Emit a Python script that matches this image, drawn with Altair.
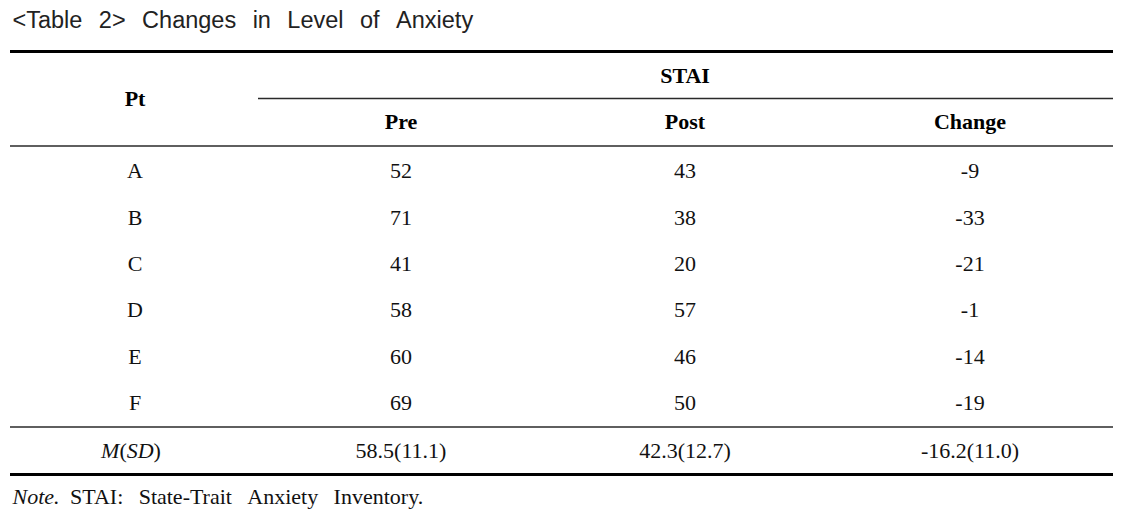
import altair as alt
import pandas as pd

# ---------------- data ----------------
title_text = "<Table 2> Changes in Level of Anxiety"
group_header = "STAI"
columns = ["Pt", "Pre", "Post", "Change"]
patients = ["A", "B", "C", "D", "E", "F"]
pre = [52, 71, 41, 58, 60, 69]
post = [43, 38, 20, 57, 46, 50]
change = [-9, -33, -21, -1, -14, -19]
summary_parts = ["M", "(", "SD", ")"]          # M(SD), italic letters, upright brackets
summary = ["58.5(11.1)", "42.3(12.7)", "-16.2(11.0)"]
note_lead = "Note."
note_body = "STAI: State-Trait Anxiety Inventory."

# ---------------- layout (scales) ----------------
row_slots = ["title", "top", "group", "group_rule", "sub", "head_rule"] + patients + \
            ["sum_rule", "sum", "bottom", "note"]
row_pix = [21, 51.5, 76, 98.5, 122, 146, 171, 218, 264, 310, 357, 403, 427, 451, 474.5, 497]
slot = {name: i for i, name in enumerate(row_slots)}

col_domain = [-1, 0, 0.5, 1, 2, 3, 4]          # left edge, Pt, span start, Pre, Post, Change, right edge
col_pix = [10, 135, 258, 401, 685, 970, 1113]

OFF = 8
xs = alt.Scale(domain=col_domain, range=[v - OFF for v in col_pix], nice=False, zero=False)
ys = alt.Scale(domain=list(range(len(row_slots))), range=[v - OFF for v in row_pix],
               nice=False, zero=False)

def X(f="x"):
    return alt.X(f"{f}:Q", scale=xs, axis=None)

def Y(f="y"):
    return alt.Y(f"{f}:Q", scale=ys, axis=None)

SERIF = "Liberation Serif"
FS = 22

# ---------------- tables ----------------
body = []
for i, p in enumerate(patients):
    for c, v in enumerate([p, pre[i], post[i], change[i]]):
        body.append({"x": c, "y": slot[p], "t": str(v)})
for j, v in enumerate(summary):
    body.append({"x": j + 1, "y": slot["sum"], "t": v})
body_df = pd.DataFrame(body)

head_df = pd.DataFrame(
    [{"x": 0, "y": slot["group_rule"], "t": columns[0]},
     {"x": 2, "y": slot["group"], "t": group_header}] +
    [{"x": k, "y": slot["sub"], "t": columns[k]} for k in range(1, 4)]
)

title_df = pd.DataFrame([{"x": -1, "y": slot["title"], "t": title_text.replace(" ", "\u2002\u2009")}])
note_lead_df = pd.DataFrame([{"x": -1, "y": slot["note"], "t": note_lead}])
note_body_df = pd.DataFrame([{"x": -1, "y": slot["note"], "t": note_body.replace(" ", "\u2002\u2009")}])

thick_df = pd.DataFrame([{"x": -1, "x2": 4, "y": slot["top"]},
                         {"x": -1, "x2": 4, "y": slot["bottom"]}])
thin_df = pd.DataFrame([{"x": 0.5, "x2": 4, "y": slot["group_rule"]},
                        {"x": -1, "x2": 4, "y": slot["head_rule"]},
                        {"x": -1, "x2": 4, "y": slot["sum_rule"]}])

body_layer = alt.Chart(body_df).mark_text(
    font=SERIF, fontSize=FS, color="#111", align="center", baseline="middle"
).encode(x=X(), y=Y(), text="t:N")

head_layer = alt.Chart(head_df).mark_text(
    font=SERIF, fontSize=FS, fontWeight="bold", color="#000", align="center", baseline="middle"
).encode(x=X(), y=Y(), text="t:N")

# M(SD): italic letters and upright brackets, set one after another
part_w = [18.3, 7.3, 26.9, 7.3]
total_w = sum(part_w)
sum_layers = []
start = -total_w / 2 - 4
for part, w in zip(summary_parts, part_w):
    ital = part.isalpha()
    df = pd.DataFrame([{"x": 0, "y": slot["sum"], "t": part}])
    sum_layers.append(alt.Chart(df).mark_text(
        font=SERIF, fontSize=FS, fontStyle="italic" if ital else "normal", color="#111",
        align="left", baseline="middle", dx=start
    ).encode(x=X(), y=Y(), text="t:N"))
    start += w

title_layer = alt.Chart(title_df).mark_text(
    font="Liberation Sans", fontSize=23.5, color="#222", align="left", baseline="middle", dx=2.5
).encode(x=X(), y=Y(), text="t:N")

note_lead_layer = alt.Chart(note_lead_df).mark_text(
    font=SERIF, fontSize=FS, fontStyle="italic", color="#111", align="left", baseline="middle", dx=2.5
).encode(x=X(), y=Y(), text="t:N")

note_body_layer = alt.Chart(note_body_df).mark_text(
    font=SERIF, fontSize=FS, color="#111", align="left", baseline="middle", dx=60
).encode(x=X(), y=Y(), text="t:N")

thick_layer = alt.Chart(thick_df).mark_rule(color="#000", strokeWidth=3.2).encode(
    x=X(), x2="x2:Q", y=Y())
thin_layer = alt.Chart(thin_df).mark_rule(color="#2a2a2a", strokeWidth=1.3).encode(
    x=X(), x2="x2:Q", y=Y())

chart = alt.layer(
    thick_layer, thin_layer, title_layer, head_layer, body_layer, *sum_layers,
    note_lead_layer, note_body_layer
).properties(
    width=1116, height=502, padding=0, autosize=alt.AutoSizeParams(type="none"),
    background="white"
).configure_view(stroke=None)

chart.save("out.html", embed_options={"renderer": "svg", "actions": False})
